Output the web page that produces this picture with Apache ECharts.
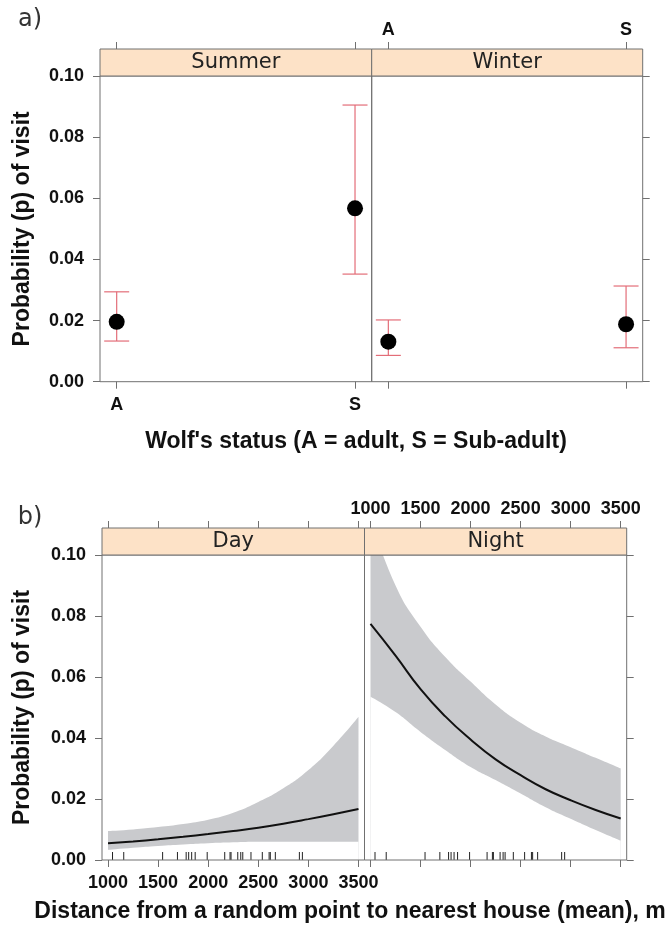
<!DOCTYPE html>
<html>
<head>
<meta charset="utf-8">
<script src="https://cdn.jsdelivr.net/npm/echarts@6/dist/echarts.min.js"></script>
<style>
  html, body { margin: 0; padding: 0; background: #fff; }
  #chart { width: 671px; height: 927px; }
</style>
</head>
<body>
<div id="chart"></div>
<script>
// a) probability of visit by wolf status
var statusPos = [1, 2];
var statusNames = ['A', 'S'];
var summerFit = [0.0196, 0.0567];
var summerLow = [0.0133, 0.0352];
var summerHigh = [0.0294, 0.0905];
var winterFit = [0.0131, 0.0188];
var winterLow = [0.0086, 0.0111];
var winterHigh = [0.0202, 0.0313];

// b) probability of visit by distance to nearest house
var distX = [1000, 1250, 1500, 1750, 2000, 2250, 2500, 2750, 3000, 3250, 3500];
var dayFit = [0.0055, 0.0061, 0.0068, 0.0076, 0.0085, 0.0095, 0.0106, 0.0119, 0.0134, 0.0150, 0.0167];
var dayLow = [0.0033, 0.0040, 0.0046, 0.0051, 0.0055, 0.0058, 0.0060, 0.0060, 0.0060, 0.0060, 0.0060];
var dayHigh = [0.0095, 0.0100, 0.0108, 0.0118, 0.0132, 0.0155, 0.0190, 0.0235, 0.0295, 0.0375, 0.0470];
var nightFit = [0.0774, 0.0670, 0.0560, 0.0470, 0.0395, 0.0330, 0.0278, 0.0232, 0.0196, 0.0164, 0.0136];
var nightLow = [0.0535, 0.0485, 0.0420, 0.0360, 0.0305, 0.0262, 0.0218, 0.0173, 0.0135, 0.0098, 0.0063];
var nightHigh = [0.1120, 0.0900, 0.0765, 0.0665, 0.0585, 0.0510, 0.0450, 0.0405, 0.0370, 0.0335, 0.0300];
// rug of observed distances
var rugX = [1045, 1157, 1545, 1693, 1780, 1805, 1835, 1870, 1990, 2165, 2218, 2228, 2295,
  2325, 2345, 2427, 2540, 2608, 2620, 2670, 2910, 2940];
var distTicks = [1000, 1500, 2000, 2500, 3000, 3500];

var chart = echarts.init(document.getElementById('chart'));

// panel layout (px)
var PA = { left: 100, mid: 371.7, right: 642.7, top: 76, bottom: 381.7 };
var PB = { left: 102, mid: 364.5, right: 626.7, top: 555, bottom: 860 };
var STRIP = 27;
var BORDER = '#707070';
var tickFont = { fontFamily: 'Liberation Sans', fontWeight: 'bold', fontSize: 18, color: '#111' };

function zip (xs, ys) {
  return xs.map(function (x, i) { return [x, ys[i]]; });
}

function grid (left, right, top, bottom) {
  return { left: left, top: top, width: right - left, height: bottom - top, show: false };
}

function xAxis (gridIndex, pos, showLabel, min, max, values, fmt) {
  return {
    type: 'value', gridIndex: gridIndex, position: pos, min: min, max: max,
    offset: pos === 'top' ? STRIP : 0,
    axisLine: { show: false },
    splitLine: { show: false },
    axisTick: { show: true, inside: false, length: 7, customValues: values, lineStyle: { color: BORDER } },
    axisLabel: Object.assign({ show: showLabel, customValues: values, margin: pos === 'top' ? 10 : 14, formatter: fmt }, tickFont)
  };
}

function yAxis (gridIndex, pos, showLabel) {
  return {
    type: 'value', gridIndex: gridIndex, position: pos, min: 0, max: 0.1, interval: 0.02,
    axisLine: { show: false },
    splitLine: { show: false },
    axisTick: { show: true, inside: false, length: 7, lineStyle: { color: BORDER } },
    axisLabel: Object.assign({ show: showLabel, margin: 16, formatter: function (v) { return v.toFixed(2); } }, tickFont)
  };
}

var statusFmt = function (v) { return statusNames[statusPos.indexOf(v)]; };
var distFmt = function (v) { return String(v); };

function errorBars (xi, yi, lo, hi) {
  return {
    type: 'custom', xAxisIndex: xi, yAxisIndex: yi,
    data: statusPos.map(function (p, i) { return [p, lo[i], hi[i]]; }),
    encode: { x: 0, y: [1, 2] },
    renderItem: function (params, api) {
      var a = api.coord([api.value(0), api.value(1)]);
      var b = api.coord([api.value(0), api.value(2)]);
      var w = 12.5;
      var st = { stroke: '#e36d78', lineWidth: 1.2 };
      return {
        type: 'group',
        children: [
          { type: 'line', shape: { x1: a[0], y1: a[1], x2: b[0], y2: b[1] }, style: st },
          { type: 'line', shape: { x1: a[0] - w, y1: a[1], x2: a[0] + w, y2: a[1] }, style: st },
          { type: 'line', shape: { x1: b[0] - w, y1: b[1], x2: b[0] + w, y2: b[1] }, style: st }
        ]
      };
    },
    z: 2
  };
}

function points (xi, yi, fit) {
  return {
    type: 'scatter', xAxisIndex: xi, yAxisIndex: yi,
    data: zip(statusPos, fit), symbol: 'circle', symbolSize: 16,
    itemStyle: { color: '#000', opacity: 1 }, z: 3
  };
}

// confidence band: grey area under the upper bound, white area under the lower bound
function band (xi, yi, lo, hi) {
  return [
    {
      type: 'line', xAxisIndex: xi, yAxisIndex: yi, smooth: true, clip: true,
      data: zip(distX, hi), symbol: 'none', lineStyle: { width: 0 },
      areaStyle: { color: '#c9cacd', opacity: 1 }, z: 1
    },
    {
      type: 'line', xAxisIndex: xi, yAxisIndex: yi, smooth: true, clip: true,
      data: zip(distX, lo), symbol: 'none', lineStyle: { width: 0 },
      areaStyle: { color: '#fff', opacity: 1 }, z: 2
    }
  ];
}

function fitLine (xi, yi, fit) {
  return {
    type: 'line', xAxisIndex: xi, yAxisIndex: yi, smooth: true,
    data: zip(distX, fit), symbol: 'none', lineStyle: { color: '#111', width: 2 }, z: 3
  };
}

function rug (xi, yi) {
  return {
    type: 'custom', xAxisIndex: xi, yAxisIndex: yi,
    data: rugX.map(function (v) { return [v, 0]; }),
    encode: { x: 0, y: 1 },
    renderItem: function (params, api) {
      var p = api.coord([api.value(0), 0]);
      return { type: 'line', shape: { x1: p[0], y1: p[1], x2: p[0], y2: p[1] - 8 }, style: { stroke: '#222', lineWidth: 1 } };
    },
    z: 4
  };
}

function frame (left, right, top, bottom) {
  return {
    type: 'rect', z: 100,
    shape: { x: left, y: top, width: right - left, height: bottom - top },
    style: { fill: 'none', stroke: BORDER, lineWidth: 1 }
  };
}

function strip (left, right, top) {
  return {
    type: 'rect', z: 100,
    shape: { x: left, y: top - STRIP, width: right - left, height: STRIP },
    style: { fill: '#fde2c7', stroke: BORDER, lineWidth: 1 }
  };
}

function label (text, x, y, font, rot, color) {
  return {
    type: 'text', x: x, y: y, rotation: rot || 0, z: 110,
    style: { text: text, font: font, fill: color || '#111', align: 'center', verticalAlign: 'middle' }
  };
}

var titleFont = 'bold 23px "Liberation Sans"';
var stripFont = '21px "DejaVu Sans"';

var option = {
  animation: false,
  grid: [
    grid(PA.left, PA.mid, PA.top, PA.bottom),
    grid(PA.mid, PA.right, PA.top, PA.bottom),
    grid(PB.left, PB.mid, PB.top, PB.bottom),
    grid(PB.mid, PB.right, PB.top, PB.bottom)
  ],
  xAxis: [
    xAxis(0, 'bottom', true, 0.93, 2.07, statusPos, statusFmt),
    xAxis(0, 'top', false, 0.93, 2.07, statusPos, statusFmt),
    xAxis(1, 'bottom', false, 0.93, 2.07, statusPos, statusFmt),
    xAxis(1, 'top', true, 0.93, 2.07, statusPos, statusFmt),
    xAxis(2, 'bottom', true, 940, 3560, distTicks, distFmt),
    xAxis(2, 'top', false, 940, 3560, distTicks, distFmt),
    xAxis(3, 'bottom', false, 940, 3560, distTicks, distFmt),
    xAxis(3, 'top', true, 940, 3560, distTicks, distFmt)
  ],
  yAxis: [
    yAxis(0, 'left', true),
    yAxis(1, 'right', false),
    yAxis(2, 'left', true),
    yAxis(3, 'right', false)
  ],
  series: [
    errorBars(0, 0, summerLow, summerHigh),
    points(0, 0, summerFit),
    errorBars(2, 1, winterLow, winterHigh),
    points(2, 1, winterFit)
  ].concat(
    band(4, 2, dayLow, dayHigh),
    [fitLine(4, 2, dayFit), rug(4, 2)],
    band(6, 3, nightLow, nightHigh),
    [fitLine(6, 3, nightFit), rug(6, 3)]
  ),
  graphic: [
    frame(PA.left, PA.mid, PA.top, PA.bottom),
    frame(PA.mid, PA.right, PA.top, PA.bottom),
    frame(PB.left, PB.mid, PB.top, PB.bottom),
    frame(PB.mid, PB.right, PB.top, PB.bottom),
    strip(PA.left, PA.mid, PA.top),
    strip(PA.mid, PA.right, PA.top),
    strip(PB.left, PB.mid, PB.top),
    strip(PB.mid, PB.right, PB.top),
    label('Summer', (PA.left + PA.mid) / 2, PA.top - STRIP / 2, stripFont, 0, '#222'),
    label('Winter', (PA.mid + PA.right) / 2, PA.top - STRIP / 2, stripFont, 0, '#222'),
    label('Day', (PB.left + PB.mid) / 2, PB.top - STRIP / 2, stripFont, 0, '#222'),
    label('Night', (PB.mid + PB.right) / 2, PB.top - STRIP / 2, stripFont, 0, '#222'),
    label('a)', 30, 20, '24px "DejaVu Sans"', 0, '#333'),
    label('b)', 30, 518, '24px "DejaVu Sans"', 0, '#333'),
    label('Probability (p) of visit', 23, (PA.top + PA.bottom) / 2, titleFont, Math.PI / 2),
    label('Probability (p) of visit', 23, (PB.top + PB.bottom) / 2, titleFont, Math.PI / 2),
    label("Wolf's status (A = adult, S = Sub-adult)", 356, 442, titleFont),
    label('Distance from a random point to nearest house (mean), m', 350, 912, titleFont)
  ]
};

chart.setOption(option);
</script>
</body>
</html>
